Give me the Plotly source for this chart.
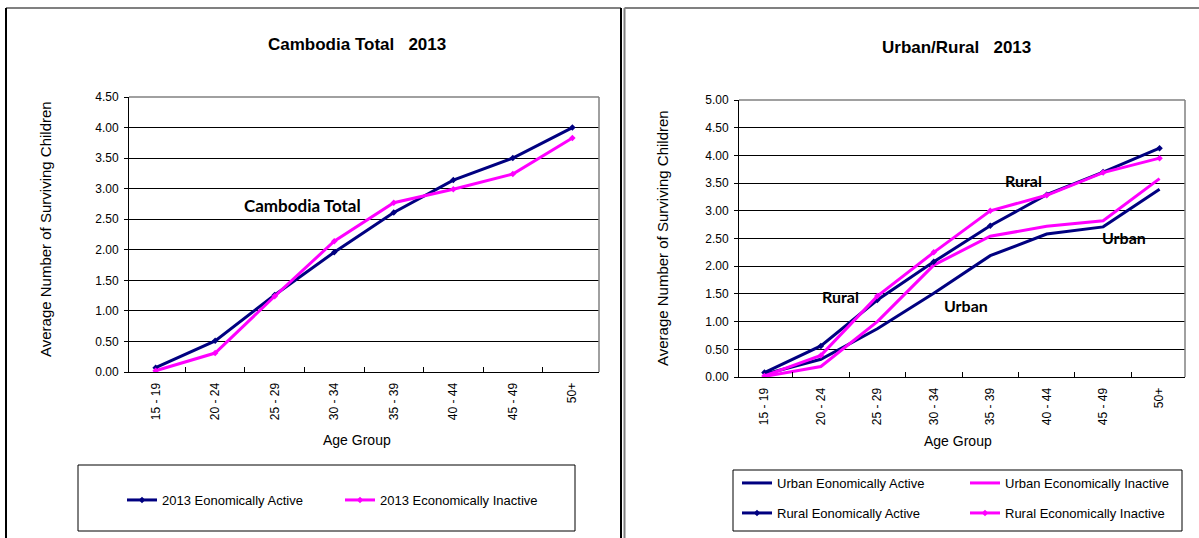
import plotly.graph_objects as go

# ---- data ----
age_groups = ["15 - 19", "20 - 24", "25 - 29", "30 - 34", "35 - 39", "40 - 44", "45 - 49", "50+"]

total_active = [0.07, 0.51, 1.26, 1.96, 2.61, 3.14, 3.50, 4.00]
total_inactive = [0.02, 0.31, 1.24, 2.14, 2.77, 2.99, 3.24, 3.83]

urban_active = [0.05, 0.32, 0.87, 1.51, 2.19, 2.58, 2.71, 3.39]
urban_inactive = [0.01, 0.19, 1.00, 2.02, 2.54, 2.72, 2.82, 3.58]
rural_active = [0.08, 0.56, 1.39, 2.08, 2.73, 3.29, 3.70, 4.13]
rural_inactive = [0.02, 0.39, 1.46, 2.25, 3.00, 3.28, 3.69, 3.95]

W, H = 1199, 538
NAVY = "#000080"
MAGENTA = "#FF00FF"
NARROW = "Liberation Sans Narrow, Arial Narrow, Liberation Sans, Arial"
BOLDLBL = "Lato, Calibri, Open Sans, sans-serif"


def px(x):
    return x / W


def py(y):
    return 1 - y / H


fig = go.Figure()


def add_line(x_axis, y_axis, vals, name, color, markers, legend):
    fig.add_trace(go.Scatter(
        x=age_groups, y=vals, name=name,
        xaxis=x_axis, yaxis=y_axis,
        mode="lines+markers" if markers else "lines",
        line=dict(color=color, width=3),
        marker=dict(symbol="diamond", size=5, color=color),
        legend=legend, showlegend=True,
    ))


# left chart
add_line("x", "y", total_active, "2013 Eonomically Active", NAVY, True, "legend")
add_line("x", "y", total_inactive, "2013 Economically Inactive", MAGENTA, True, "legend2")
# right chart
add_line("x2", "y2", urban_active, "Urban Eonomically Active", NAVY, False, "legend3")
add_line("x2", "y2", urban_inactive, "Urban Economically Inactive", MAGENTA, False, "legend4")
add_line("x2", "y2", rural_active, "Rural Eonomically Active", NAVY, True, "legend5")
add_line("x2", "y2", rural_inactive, "Rural Economically Inactive", MAGENTA, True, "legend6")

tickfont = dict(family=NARROW, size=12, color="black")

xaxis_common = dict(
    type="category", tickangle=-90, tickfont=tickfont,
    showgrid=False, showline=True, linecolor="black", linewidth=1,
    ticks="inside", ticklen=5, tickcolor="black", tickson="boundaries",
    ticklabelstandoff=5,
    zeroline=False, fixedrange=True, automargin=False,
)
yaxis_common = dict(
    dtick=0.5, tickformat=".2f", tickfont=tickfont,
    showgrid=True, gridcolor="black", gridwidth=1,
    showline=True, linecolor="black", linewidth=1,
    ticks="outside", ticklen=4, tickcolor="black",
    ticklabelstandoff=3,
    zeroline=False, fixedrange=True, automargin=False,
)

# plot-area pixel boxes
L = dict(x0=129, x1=599, y0=97, y1=372)
R = dict(x0=739, x1=1185, y0=100, y1=377)

fig.update_layout(
    width=W, height=H,
    margin=dict(l=0, r=0, t=0, b=0, autoexpand=False),
    paper_bgcolor="white", plot_bgcolor="white",
    xaxis=dict(domain=[px(L["x0"]), px(L["x1"])], anchor="y", **xaxis_common),
    yaxis=dict(domain=[py(L["y1"]), py(L["y0"])], anchor="x", range=[0, 4.5], **yaxis_common),
    xaxis2=dict(domain=[px(R["x0"]), px(R["x1"])], anchor="y2", **xaxis_common),
    yaxis2=dict(domain=[py(R["y1"]), py(R["y0"])], anchor="x2", range=[0, 5], **yaxis_common),
)

# legends, one per entry, placed inside the drawn legend boxes
legend_font = dict(family=NARROW, size=13, color="black")
legend_pos = {
    "legend": (122, 500),
    "legend2": (340, 500),
    "legend3": (737, 483),
    "legend4": (965, 483),
    "legend5": (737, 513),
    "legend6": (965, 513),
}
for key, (lx, ly) in legend_pos.items():
    fig.update_layout({key: dict(
        x=px(lx), y=py(ly), xanchor="left", yanchor="middle",
        bgcolor="rgba(0,0,0,0)", borderwidth=0, font=legend_font,
        itemclick=False, itemdoubleclick=False,
    )})

shapes = []


def seg(x0, y0, x1, y1, color, width=1.5):
    shapes.append(dict(type="line", xref="paper", yref="paper",
                       x0=px(x0), y0=py(y0), x1=px(x1), y1=py(y1),
                       line=dict(color=color, width=width)))


def rect(x0, y0, x1, y1, color, width=1):
    shapes.append(dict(type="rect", xref="paper", yref="paper",
                       x0=px(x0), y0=py(y0), x1=px(x1), y1=py(y1),
                       line=dict(color=color, width=width), layer="below"))


# chart frames
seg(6, 8, 621, 8, "#808080", 2)
seg(6, 8, 6, 538, "black", 2)
seg(621, 8, 621, 538, "black", 2)
seg(624.5, 8, 1199, 8, "#808080", 2)
seg(624.5, 8, 624.5, 538, "#808080", 2)

# plot-area borders (top/right grey)
seg(L["x0"], L["y0"], L["x1"], L["y0"], "#808080", 1.5)
seg(L["x1"], L["y0"], L["x1"], L["y1"], "#808080", 1.5)
seg(R["x0"], R["y0"], R["x1"], R["y0"], "#808080", 1.5)
seg(R["x1"], R["y0"], R["x1"], R["y1"], "#808080", 1.5)

# legend boxes
rect(78, 465, 575, 531, "black", 1)
rect(733, 470, 1182, 531, "black", 1)

fig.update_layout(shapes=shapes)

annotations = []


def text(x, y, s, size, family, bold=False, angle=0):
    annotations.append(dict(
        x=px(x), y=py(y), xref="paper", yref="paper", showarrow=False,
        text=f"<b>{s}</b>" if bold else s, textangle=angle,
        font=dict(family=family, size=size, color="black"),
        xanchor="center", yanchor="middle",
    ))


# titles
text(357, 45, "Cambodia Total&nbsp;&nbsp;&nbsp;2013", 17, NARROW, bold=True)
text(956, 48, "Urban/Rural&nbsp;&nbsp;&nbsp;2013", 17, NARROW, bold=True)
# axis titles
text(45, 229, "Average Number of Surviving Children", 15, NARROW, angle=-90)
text(662, 238, "Average Number of Surviving Children", 15, NARROW, angle=-90)
text(357, 440, "Age Group", 14, NARROW)
text(958, 441, "Age Group", 14, NARROW)
# in-chart labels
text(303, 205, "Cambodia Total", 17, BOLDLBL, bold=True)
text(1023, 181, "Rural", 16, BOLDLBL, bold=True)
text(1124, 237, "Urban", 16, BOLDLBL, bold=True)
text(840, 297, "Rural", 16, BOLDLBL, bold=True)
text(966, 305, "Urban", 16, BOLDLBL, bold=True)

fig.update_layout(annotations=annotations)

fig.write_html("out.html")
